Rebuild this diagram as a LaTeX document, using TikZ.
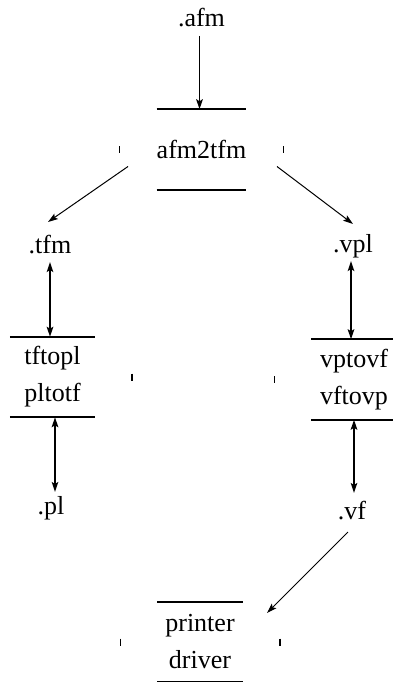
\documentclass[tikz,border=0pt]{standalone}
\usepackage{fontspec}
\setmainfont{Liberation Serif}
\usetikzlibrary{arrows.meta}
\begin{document}
\begin{tikzpicture}[x=1pt,y=-1pt,
  lbl/.style={inner sep=0pt, anchor=base, font=\fontsize{26}{37}\selectfont},
  boxline/.style={draw, line width=2pt},
  tick/.style={draw, line width=1.6pt},
  tool/.style={minimum width=85pt, minimum height=80pt, inner sep=0pt, align=center,
    font=\fontsize{26}{37}\selectfont,
    append after command={
      (\tikzlastnode.north west) edge[boxline] (\tikzlastnode.north east)
      (\tikzlastnode.south west) edge[boxline] (\tikzlastnode.south east)
      ([shift={(-37,-3.5)}]\tikzlastnode.west) edge[tick] ([shift={(-37,3.5)}]\tikzlastnode.west)
      ([shift={(37,-3.5)}]\tikzlastnode.east) edge[tick] ([shift={(37,3.5)}]\tikzlastnode.east)
    }},
  varrow/.style={draw, line width=1.8pt, -{Stealth[length=10pt,width=6.5pt,inset=2pt]}},
  dvarrow/.style={draw, line width=1.8pt, {Stealth[length=10pt,width=6.5pt,inset=2pt]}-{Stealth[length=10pt,width=6.5pt,inset=2pt]}},
  darrow/.style={draw, line width=1pt, -{Stealth[length=10pt,width=6.5pt,inset=2pt]}}
]
\useasboundingbox (0,0) rectangle (393,682);

% labels (files)
\node[lbl] (afm) at (201.5,27) {.afm};
\node[lbl] (tfm) at (50,253) {.tfm};
\node[lbl] (vpl) at (353,252) {.vpl};
\node[lbl] (pl)  at (51,514) {.pl};
\node[lbl] (vf)  at (352,519) {.vf};

% programs
\node[tool] (afmtotfm) at (201.5,149.5) {afm2tfm};
\node[tool] (tftopl) at (52.5,377) {tftopl\\pltotf};
\node[tool] (vptovf) at (354,379.5) {vptovf\\vftovp};
\node[tool] (driver) at (200,642) {printer\\driver};

% connectors
\draw[varrow] ([shift={(-2,9)}]afm.base) -- ([shift={(-2,0)}]afmtotfm.north);
\draw[darrow] ([shift={(-73.5,17)}]afmtotfm.center) -- ([shift={(-2,-31)}]tfm.base);
\draw[darrow] ([shift={(75.5,17)}]afmtotfm.center) -- ([shift={(0,-28)}]vpl.base);
\draw[dvarrow] ([shift={(0,9)}]tfm.base) -- ([shift={(-2.5,0)}]tftopl.north);
\draw[dvarrow] ([shift={(2.5,0)}]tftopl.south) -- ([shift={(4,-22)}]pl.base);
\draw[dvarrow] ([shift={(-2,9)}]vpl.base) -- ([shift={(-3,0)}]vptovf.north);
\draw[dvarrow] ([shift={(0,0)}]vptovf.south) -- ([shift={(2,-26)}]vf.base);
\draw[darrow] ([shift={(-4,13)}]vf.base) -- ([shift={(67,-29)}]driver.center);
\end{tikzpicture}
\end{document}
